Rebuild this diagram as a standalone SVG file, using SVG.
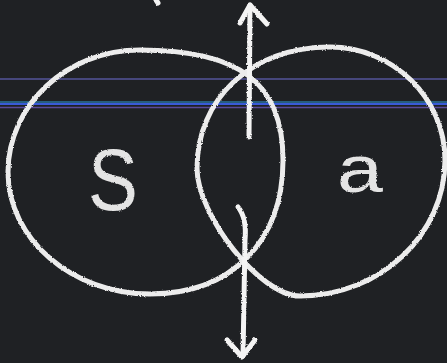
<svg xmlns="http://www.w3.org/2000/svg" width="447" height="363" viewBox="0 0 447 363">
  <defs>
    <filter id="chalk" x="-5%" y="-5%" width="110%" height="110%">
      <feTurbulence type="fractalNoise" baseFrequency="0.8" numOctaves="2" seed="3" result="n"/>
      <feDisplacementMap in="SourceGraphic" in2="n" scale="2.5" xChannelSelector="R" yChannelSelector="G"/>
    </filter>
    <style>
      .chalk { fill: none; stroke: #ececec; stroke-width: 5; stroke-linecap: round; stroke-linejoin: round; }
      .arrow { fill: none; stroke: #f4f4f4; stroke-width: 5; stroke-linecap: round; stroke-linejoin: round; }
      .lbl { font-family: "Liberation Sans", Arial, sans-serif; fill: #e4e4e4; }
    </style>
  </defs>
  <rect width="447" height="363" fill="#1f2124"/>
  <g id="scan-lines">
    <line x1="0" y1="79" x2="447" y2="79" stroke="#55559a" stroke-width="1.5"/>
    <line x1="0" y1="102" x2="447" y2="102" stroke="#2e9ad8" stroke-width="1"/>
    <line x1="0" y1="104" x2="447" y2="104" stroke="#3a5ad8" stroke-width="2"/>
    <line x1="0" y1="107.5" x2="447" y2="107.5" stroke="#5a4a9a" stroke-width="1.5"/>
  </g>
  <g id="node-s" filter="url(#chalk)">
    <path class="chalk" d="M8,172 C8,105 67,50 140,50 C240,50 283,83 283,160 C283,243 230,294 150,294 C72,294 8,239 8,172 Z"/>
    <text class="lbl" x="0" y="0" font-size="88" text-anchor="middle" transform="translate(113,210) scale(0.85,1)">S</text>
  </g>
  <g id="node-a" filter="url(#chalk)">
    <path class="chalk" d="M197,168 C197,100 250,47 330,47 C393,47 445,98 445,160 C445,235 380,296 300,296 C260,296 197,215 197,168 Z"/>
    <text class="lbl" x="0" y="0" font-size="66" text-anchor="middle" transform="translate(360,192) scale(1.25,1)">a</text>
  </g>
  <g id="connectors" filter="url(#chalk)">
    <path class="arrow" d="M249,137 L250,5"/>
    <path class="arrow" d="M240,23 L250,5 L267,24"/>
    <path class="arrow" d="M238,207 Q247,218 245,240 L243,356"/>
    <path class="arrow" d="M227,340 L242,357 L255,340"/>
    <path class="arrow" d="M156,0 L158,3" stroke-width="4"/>
  </g>
</svg>
